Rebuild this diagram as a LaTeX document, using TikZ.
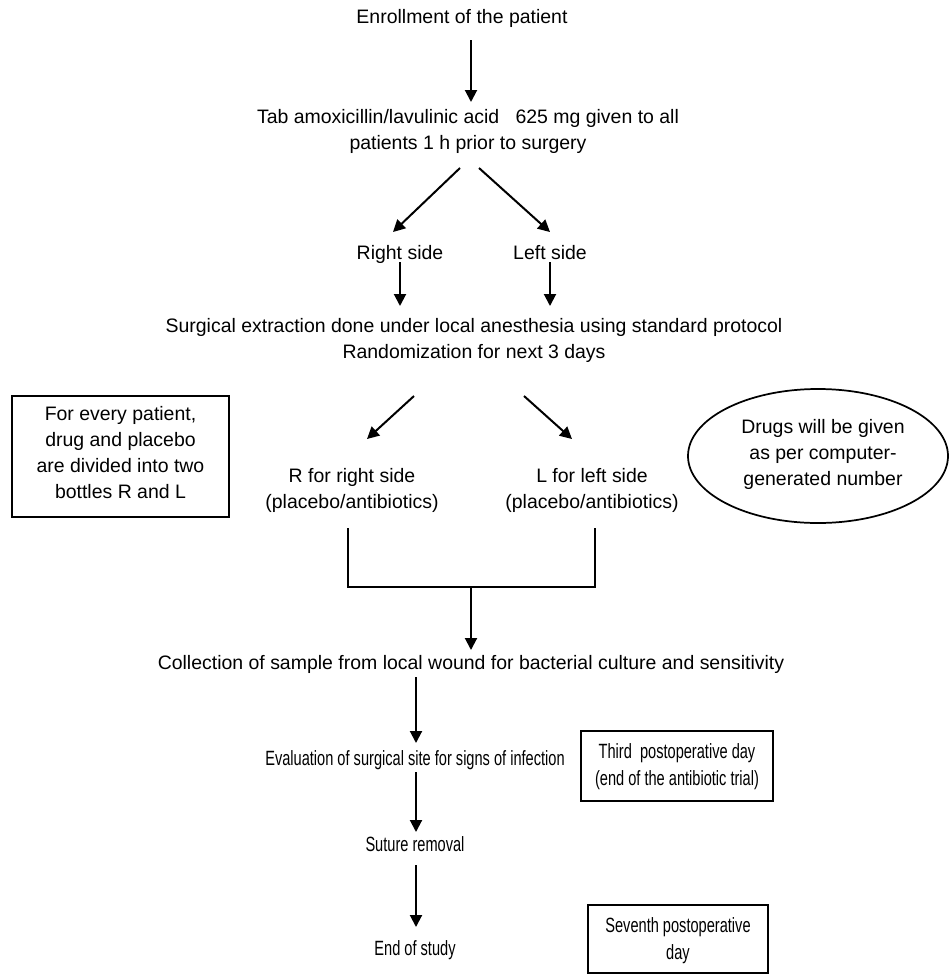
\documentclass[tikz,border=0pt]{standalone}
\usepackage{fontspec}
\setmainfont{Liberation Sans}
\usetikzlibrary{arrows.meta,shapes.geometric}
\newcommand{\narrowtext}[1]{\scalebox{0.75}[1.06]{\begin{tabular}{@{}c@{}}#1\end{tabular}}}
\begin{document}
\begin{tikzpicture}[x=0.75pt,y=-0.75pt,
  every node/.style={font=\fontsize{14.6}{19.5}\selectfont, align=center, inner sep=0pt},
  arr/.style={line width=1.5pt, -{Triangle[length=9pt,width=9pt]}},
  link/.style={line width=1.3pt},
  sidebox/.style={draw, line width=1.3pt}]
\useasboundingbox (0,0) rectangle (950,975);
% main text nodes
\node (enroll) at (462,18) {Enrollment of the patient};
\node (tab) at (468,131) {Tab amoxicillin/lavulinic acid\ \ \ 625 mg given to all\\patients 1 h prior to surgery};
\node[anchor=base] (rside) at (400,259) {Right side};
\node[anchor=base] (lside) at (550,259) {Left side};
\node (surg) at (474,340) {Surgical extraction done under local anesthesia using standard protocol\\Randomization for next 3 days};
\node (rr) at (352,490) {R for right side\\(placebo/antibiotics)};
\node (ll) at (592,490) {L for left side\\(placebo/antibiotics)};
\node (coll) at (471,664) {Collection of sample from local wound for bacterial culture and sensitivity};
\node (eval) at (415,760) {\narrowtext{Evaluation of surgical site for signs of infection}};
\node (sut) at (415,846) {\narrowtext{Suture removal}};
\node (end) at (415,950) {\narrowtext{End of study}};
% side notes
\draw[sidebox] (12,396) rectangle (229,517);
\node (notetxt) at (120.5,453) {For every patient,\\drug and placebo\\are divided into two\\bottles R and L};
\draw[line width=1.3pt] (818,456) ellipse [x radius=130, y radius=67];
\node (drugs) at (823,454) {Drugs will be given\\as per computer-\\generated number};
\draw[sidebox] (581,731) rectangle (773,801);
\node (third) at (677,766.5) {\narrowtext{Third\ \ postoperative day\\(end of the antibiotic trial)}};
\draw[sidebox] (588,905) rectangle (768,973);
\node (seventh) at (678,940.5) {\narrowtext{Seventh postoperative\\day}};
% connector coordinates
\coordinate (a1s) at (471,40);  \coordinate (a1e) at (471,102);
\coordinate (d1s) at (460,168); \coordinate (d1e) at (393,232);
\coordinate (d2s) at (479,168); \coordinate (d2e) at (550,232);
\coordinate (v1s) at (400,262); \coordinate (v1e) at (400,306);
\coordinate (v2s) at (550,262); \coordinate (v2e) at (550,306);
\coordinate (d3s) at (414,396); \coordinate (d3e) at (367,439);
\coordinate (d4s) at (524,396); \coordinate (d4e) at (572,439);
\coordinate (bl) at (348,528);  \coordinate (br) at (595,528);
\coordinate (bm) at (471,587);
\coordinate (a5e) at (471,650);
\coordinate (a6s) at (416,677); \coordinate (a6e) at (416,743);
\coordinate (a7s) at (416,772); \coordinate (a7e) at (416,832);
\coordinate (a8s) at (416,865); \coordinate (a8e) at (416,927);
% connectors
\draw[arr] (a1s) -- (a1e);
\draw[arr] (d1s) -- (d1e);
\draw[arr] (d2s) -- (d2e);
\draw[arr] (v1s) -- (v1e);
\draw[arr] (v2s) -- (v2e);
\draw[arr] (d3s) -- (d3e);
\draw[arr] (d4s) -- (d4e);
\draw[link] (bl) |- (bm) -| (br);
\draw[arr] (bm) -- (a5e);
\draw[arr] (a6s) -- (a6e);
\draw[arr] (a7s) -- (a7e);
\draw[arr] (a8s) -- (a8e);
\end{tikzpicture}
\end{document}
